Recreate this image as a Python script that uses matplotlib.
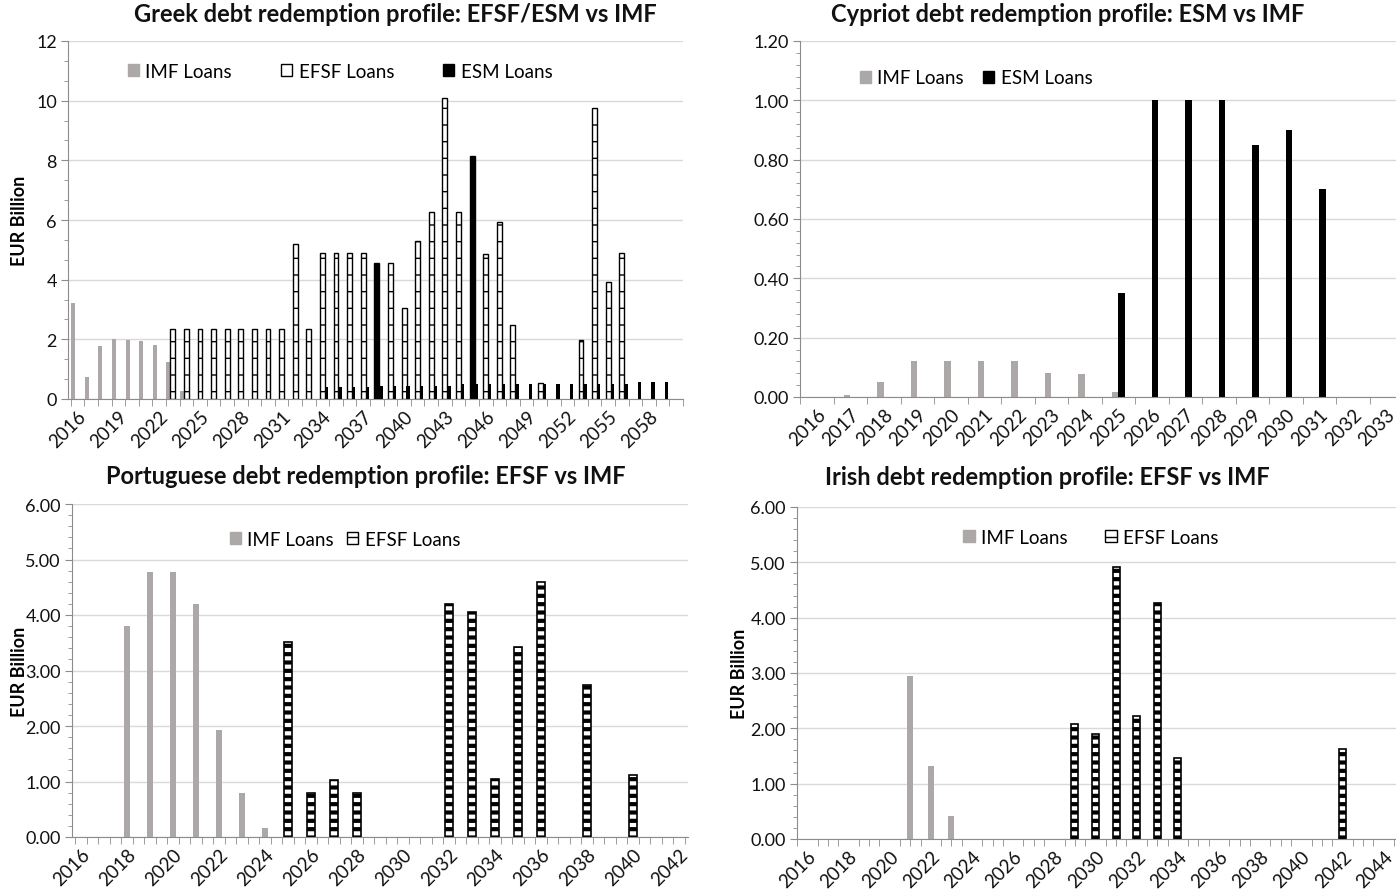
import numpy as np
import matplotlib
matplotlib.use('Agg')
import matplotlib.pyplot as plt
from matplotlib.patches import Patch

plt.rcParams['font.family'] = ['Lato', 'DejaVu Sans']

# Greek (EFSF / ESM / IMF), EUR bn
greek_imf_years = [2016, 2017, 2018, 2019, 2020, 2021, 2022, 2023, 2024]
greek_imf = [3.22, 0.73, 1.77, 2.01, 1.98, 1.93, 1.81, 1.24, 0.26]
greek_efsf_years = [2023, 2024, 2025, 2026, 2027, 2028, 2029, 2030, 2031, 2032, 2033,
                    2034, 2035, 2036, 2037, 2038, 2039, 2040, 2041, 2042, 2043, 2044,
                    2045, 2046, 2047, 2048, 2050, 2053, 2054, 2055, 2056]
greek_efsf = [2.35, 2.35, 2.35, 2.35, 2.35, 2.35, 2.35, 2.35, 2.35, 5.19, 2.35,
              4.89, 4.89, 4.89, 4.89, 4.55, 4.55, 3.04, 5.31, 6.26, 10.09, 6.26,
              8.16, 4.85, 5.93, 2.49, 0.53, 1.98, 9.77, 3.91, 4.89]
greek_esm_years = [2034, 2035, 2036, 2037, 2038, 2039, 2040, 2041, 2042, 2043, 2044,
                   2045, 2046, 2047, 2048, 2049, 2050, 2051, 2052, 2053, 2054, 2055,
                   2056, 2057, 2058, 2059]
greek_esm = [0.41, 0.41, 0.41, 0.41, 0.45, 0.45, 0.45, 0.45, 0.45, 0.45, 0.50,
             0.50, 0.50, 0.50, 0.50, 0.50, 0.50, 0.50, 0.50, 0.50, 0.50, 0.50,
             0.50, 0.56, 0.56, 0.56]
greek_dark_years = [2038, 2045]
greek_labels = list(range(2016, 2059, 3))

# Cyprus (ESM / IMF)
cy_imf_years = [2017, 2018, 2019, 2020, 2021, 2022, 2023, 2024, 2025]
cy_imf = [0.006, 0.05, 0.12, 0.12, 0.12, 0.12, 0.08, 0.076, 0.018]
cy_esm_years = [2025, 2026, 2027, 2028, 2029, 2030, 2031]
cy_esm = [0.35, 1.00, 1.00, 1.00, 0.85, 0.90, 0.70]
cy_labels = list(range(2016, 2034))

# Portugal (EFSF / IMF)
pt_imf_years = [2018, 2019, 2020, 2021, 2022, 2023, 2024]
pt_imf = [3.80, 4.78, 4.78, 4.19, 1.92, 0.80, 0.16]
pt_efsf_years = [2025, 2026, 2027, 2028, 2032, 2033, 2034, 2035, 2036, 2038, 2040]
pt_efsf = [3.52, 0.80, 1.02, 0.80, 4.19, 4.06, 1.04, 3.43, 4.59, 2.74, 1.11]
pt_labels = list(range(2016, 2043, 2))

# Ireland (EFSF / IMF)
ie_imf_years = [2021, 2022, 2023]
ie_imf = [2.94, 1.32, 0.41]
ie_efsf_years = [2029, 2030, 2031, 2032, 2033, 2034, 2042]
ie_efsf = [2.08, 1.89, 4.92, 2.22, 4.27, 1.47, 1.62]
ie_labels = list(range(2016, 2045, 2))

GRAY = '#aca8a8'
W, H = 1396, 895


def make_ax(fig, l, r, t, b):
    ax = fig.add_axes([l / W, 1 - b / H, (r - l) / W, (b - t) / H])
    for s in ['top', 'right']:
        ax.spines[s].set_visible(False)
    for s in ['left', 'bottom']:
        ax.spines[s].set_color('#8c8c8c')
    ax.yaxis.grid(True, color='#d9d9d9', lw=1)
    ax.set_axisbelow(True)
    ax.tick_params(axis='y', which='major', length=5, color='#8c8c8c', labelsize=13,
                   pad=3, labelcolor='#111111')
    ax.tick_params(axis='y', which='minor', length=3, color='#8c8c8c')
    ax.tick_params(axis='x', which='major', length=0, labelsize=13.5, pad=6,
                   labelcolor='#111111')
    ax.tick_params(axis='x', which='minor', length=5, color='#8c8c8c')
    return ax


def set_xlabels(ax, labels):
    ax.set_xticks(labels)
    ax.set_xticklabels([str(y) for y in labels], rotation=45, ha='right',
                       rotation_mode='anchor')


def ylabel(ax, xcoord):
    ax.set_ylabel('EUR Billion', fontsize=13, fontweight='bold')
    ax.yaxis.set_label_coords(xcoord, 0.5)


def title(fig, x, y, txt):
    fig.text(x / W, 1 - y / H, txt, ha='center', va='center', fontsize=17,
             fontweight='bold', color='#111111')


def legend(ax, fig, handles, labels, x, y, cs):
    ax.legend(handles, labels, loc='center', bbox_to_anchor=(x / W, 1 - y / H),
              bbox_transform=fig.transFigure, ncol=len(handles), frameon=False,
              fontsize=13.5, handlelength=0.6, handleheight=0.6, handletextpad=0.35,
              columnspacing=cs)


fig = plt.figure(figsize=(W / 100, H / 100), dpi=100)

# ---- Greece
ax = make_ax(fig, 68, 683, 42, 400)
ax.bar(np.array(greek_imf_years) - 0.32, greek_imf, width=0.3, color=GRAY)
efsf_fc = ['black' if y in greek_dark_years else 'white' for y in greek_efsf_years]
with plt.rc_context({'hatch.linewidth': 1.0}):
    ax.bar(greek_efsf_years, greek_efsf, width=0.36, color=efsf_fc, edgecolor='black',
           lw=1.0, hatch='-')
ax.bar(np.array(greek_esm_years) + 0.3, greek_esm, width=0.25, color='black')
ax.set_xlim(2015.3, 2060.5)
ax.set_ylim(0, 12)
ax.set_yticks(range(0, 13, 2))
ax.set_yticks(np.arange(0, 12.01, 2 / 3), minor=True)
ax.set_xticks(np.arange(2015.5, 2060.6, 1), minor=True)
set_xlabels(ax, greek_labels)
ylabel(ax, -0.065)
title(fig, 395, 15, 'Greek debt redemption profile: EFSF/ESM vs IMF')
legend(ax, fig, [Patch(color=GRAY), Patch(fc='white', ec='black'), Patch(color='black')],
       ['IMF Loans', 'EFSF Loans', 'ESM Loans'], 340, 72, 2.6)

# ---- Cyprus
ax = make_ax(fig, 800, 1403, 42, 398)
ax.bar(np.array(cy_imf_years) - 0.1, cy_imf, width=0.19, color=GRAY)
ax.bar(np.array(cy_esm_years) + 0.1, cy_esm, width=0.19, color='black')
ax.set_xlim(2015.5, 2033.5)
ax.set_ylim(0, 1.2)
ax.set_yticks(np.arange(0, 1.21, 0.2))
ax.set_yticklabels(['%.2f' % v for v in np.arange(0, 1.21, 0.2)])
ax.set_yticks(np.arange(0, 1.201, 0.04), minor=True)
ax.set_xticks(np.arange(2015.5, 2033.6, 0.5), minor=True)
set_xlabels(ax, cy_labels)
title(fig, 1068, 15, 'Cypriot debt redemption profile: ESM vs IMF')
legend(ax, fig, [Patch(color=GRAY), Patch(color='black')],
       ['IMF Loans', 'ESM Loans'], 976, 79, 1.0)

# ---- Portugal
ax = make_ax(fig, 72, 688, 505, 838)
ax.bar(pt_imf_years, pt_imf, width=0.29, color=GRAY)
with plt.rc_context({'hatch.linewidth': 3.0}):
    ax.bar(pt_efsf_years, pt_efsf, width=0.33, color='white', edgecolor='black',
           lw=1.2, hatch='--')
ax.set_xlim(2015.6, 2042.4)
ax.set_ylim(0, 6)
ax.set_yticks(range(0, 7))
ax.set_yticklabels(['%.2f' % v for v in range(0, 7)])
ax.set_yticks(np.arange(0, 6.01, 0.2), minor=True)
ax.set_xticks(np.arange(2015.75, 2042.4, 0.5), minor=True)
set_xlabels(ax, pt_labels)
ylabel(ax, -0.071)
title(fig, 366, 477, 'Portuguese debt redemption profile: EFSF vs IMF')
with plt.rc_context({'hatch.linewidth': 3.0}):
    h_efsf = Patch(fc='white', ec='black', hatch='--')
legend(ax, fig, [Patch(color=GRAY), h_efsf], ['IMF Loans', 'EFSF Loans'], 345, 540, 0.7)

# ---- Ireland
ax = make_ax(fig, 797, 1396, 508, 840)
ax.bar(ie_imf_years, ie_imf, width=0.29, color=GRAY)
with plt.rc_context({'hatch.linewidth': 3.0}):
    ax.bar(ie_efsf_years, ie_efsf, width=0.34, color='white', edgecolor='black',
           lw=1.2, hatch='--')
ax.set_xlim(2015.5, 2044.6)
ax.set_ylim(0, 6)
ax.set_yticks(range(0, 7))
ax.set_yticklabels(['%.2f' % v for v in range(0, 7)])
ax.set_yticks(np.arange(0, 6.01, 0.2), minor=True)
ax.set_xticks(np.arange(2015.5, 2044.6, 0.5), minor=True)
set_xlabels(ax, ie_labels)
ylabel(ax, -0.082)
title(fig, 1047, 478, 'Irish debt redemption profile: EFSF vs IMF')
with plt.rc_context({'hatch.linewidth': 3.0}):
    h_efsf = Patch(fc='white', ec='black', hatch='--')
legend(ax, fig, [Patch(color=GRAY), h_efsf], ['IMF Loans', 'EFSF Loans'], 1091, 538, 2.0)

fig.savefig('out.png', dpi=100)
